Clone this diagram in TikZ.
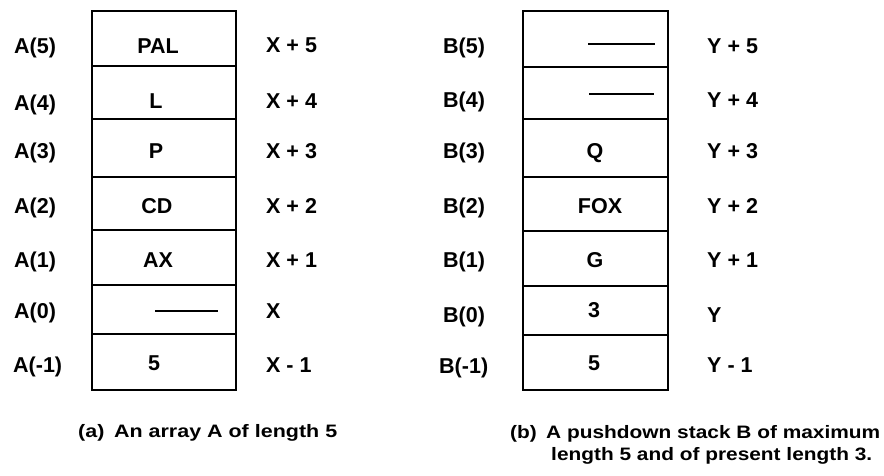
\documentclass[tikz,border=0pt]{standalone}
\usepackage{fontspec}
\setmainfont{Liberation Sans}
\usepackage{graphicx}
\begin{document}
\begin{tikzpicture}[x=1pt,y=-1pt,
  lab/.style={anchor=base west,inner sep=0pt,font=\fontsize{21.5}{24}\selectfont\bfseries},
  val/.style={anchor=base,inner sep=0pt,font=\fontsize{21.5}{24}\selectfont\bfseries},
  boxline/.style={line width=2.6pt,line join=miter},
  sepline/.style={line width=2.2pt},
  nilline/.style={line width=2pt},
  capt/.style={anchor=base west,inner sep=0pt,font=\fontsize{18}{20}\selectfont\bfseries}]
\useasboundingbox (0,0) rectangle (884,475);

% ---------- array A ----------
\draw[boxline] (92,11) rectangle (236,390);
\foreach \yy in {66,119,177,230,285,334}
  \draw[sepline] (92,\yy) -- (236,\yy);

\node[lab] (a5) at (14,53) {A(5)};
\node[lab] (a4) at (14,110) {A(4)};
\node[lab] (a3) at (14,158) {A(3)};
\node[lab] (a2) at (14,213) {A(2)};
\node[lab] (a1) at (14,267) {A(1)};
\node[lab] (a0) at (14,318) {A(0)};
\node[lab] (am) at (13,372) {A(-1)};

\node[val] (va5) at (158,53) {PAL};
\node[val] (va4) at (156,108) {L};
\node[val] (va3) at (156,158) {P};
\node[val] (va2) at (157,213) {CD};
\node[val] (va1) at (158,267) {AX};
\draw[nilline] (155,311) -- (218,311);
\node[val] (vam) at (154,370) {5};

\node[lab] (x5) at (266,52) {X + 5};
\node[lab] (x4) at (266,108) {X + 4};
\node[lab] (x3) at (266,158) {X + 3};
\node[lab] (x2) at (266,213) {X + 2};
\node[lab] (x1) at (266,267) {X + 1};
\node[lab] (x0) at (266,318) {X};
\node[lab] (xm) at (266,372) {X - 1};

% ---------- stack B ----------
\draw[boxline] (523,11) rectangle (668,390);
\foreach \yy in {67,119,177,231,286,335}
  \draw[sepline] (523,\yy) -- (668,\yy);

\node[lab] (b5) at (443,53) {B(5)};
\node[lab] (b4) at (443,107) {B(4)};
\node[lab] (b3) at (443,158) {B(3)};
\node[lab] (b2) at (443,213) {B(2)};
\node[lab] (b1) at (443,267) {B(1)};
\node[lab] (b0) at (443,322) {B(0)};
\node[lab] (bm) at (439,373) {B(-1)};

\draw[nilline] (588,44) -- (655,44);
\draw[nilline] (589,94) -- (654,94);
\node[val] (vb3) at (595,158) {Q};
\node[val] (vb2) at (600,213) {FOX};
\node[val] (vb1) at (595,267) {G};
\node[val] (vb0) at (594,317) {3};
\node[val] (vbm) at (594,370) {5};

\node[lab] (y5) at (707,53) {Y + 5};
\node[lab] (y4) at (707,107) {Y + 4};
\node[lab] (y3) at (707,158) {Y + 3};
\node[lab] (y2) at (707,213) {Y + 2};
\node[lab] (y1) at (707,267) {Y + 1};
\node[lab] (y0) at (707,322) {Y};
\node[lab] (ym) at (707,372) {Y - 1};

% ---------- captions ----------
\node[capt] (capa) at (78,437) {\resizebox{259pt}{\height}{(a)\hspace{0.45em}An array A of length 5}};
\node[capt] (capb) at (510,438) {\resizebox{370pt}{\height}{(b)\hspace{0.45em}A pushdown stack B of maximum}};
\node[capt] (capc) at (551,460) {\resizebox{321pt}{\height}{length 5 and of present length 3.}};
\end{tikzpicture}
\end{document}
